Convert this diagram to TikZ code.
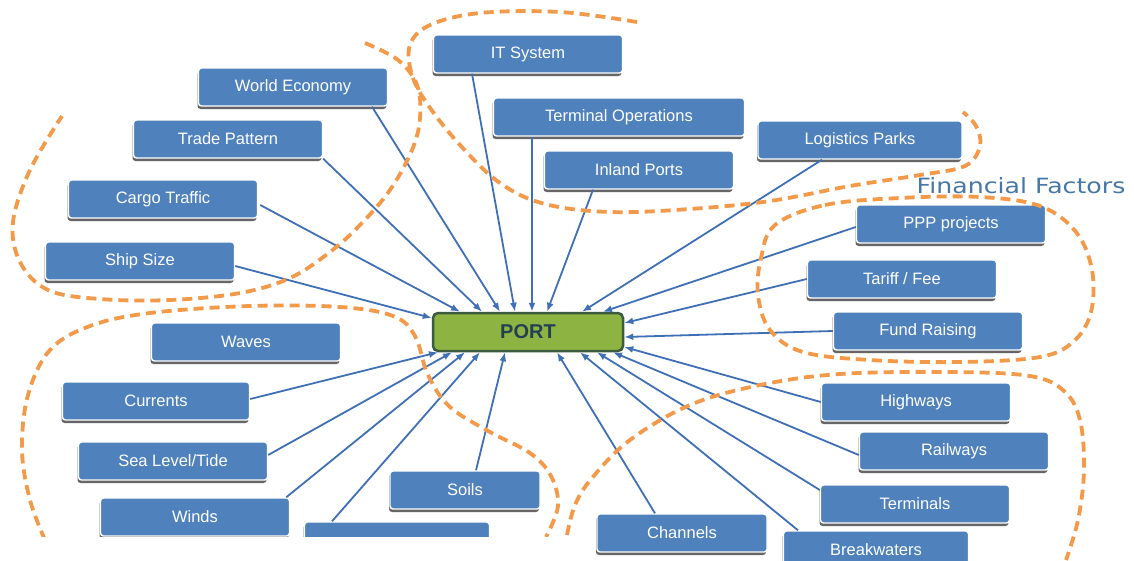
\documentclass[tikz,border=0pt]{standalone}
\usepackage{fontspec}
\setmainfont{Liberation Sans}
\newfontfamily\finfont{DejaVu Sans}
\usetikzlibrary{arrows.meta,shadows,calc}
\definecolor{boxblue}{HTML}{4F81BD}
\definecolor{linkblue}{HTML}{3F6FB5}
\definecolor{dashorange}{HTML}{F39A4A}
\definecolor{portgreen}{HTML}{8DB443}
\definecolor{portedge}{HTML}{3B5A3E}
\definecolor{porttext}{HTML}{243F55}
\definecolor{fintext}{HTML}{4677A6}
\newcommand\boxfont{\fontsize{16.5}{18}\selectfont}
\begin{document}
\begin{tikzpicture}[x=1pt,y=-1pt,
  fbox/.style={draw=white, line width=1.4pt, fill=boxblue, rounded corners=3pt, text=white,
    font=\boxfont, minimum width=189pt, minimum height=38pt, inner sep=0pt,
    drop shadow={shadow xshift=-1pt, shadow yshift=-3pt, fill=black!80, opacity=0.75}},
  portbox/.style={draw=portedge, line width=2.5pt, fill=portgreen, rounded corners=5pt,
    minimum width=190pt, minimum height=38pt, text=porttext, inner sep=0pt,
    font=\bfseries\fontsize{20}{22}\selectfont},
  link/.style={draw=linkblue, line width=1.8pt, -{Latex[length=9pt,width=7pt]}},
  grp/.style={draw=dashorange, line width=3.8pt, dash pattern=on 10pt off 6pt}]
\useasboundingbox (0,0) rectangle (1134,560);
\clip (0,0) rectangle (1134,560);
\fill[white] (0,0) rectangle (1134,560);

% nodes
\node[fbox] (we) at (293,87) {World Economy};
\node[fbox] (trade) at (228,139) {Trade Pattern};
\node[fbox] (cargo) at (163,199) {Cargo Traffic};
\node[fbox] (ship) at (140,261) {Ship Size};
\node[fbox] (it) at (528,54) {IT System};
\node[fbox, minimum width=251pt] (tops) at (619,117) {Terminal Operations};
\node[fbox] (inl) at (639,170) {Inland Ports};
\node[fbox, minimum width=204pt] (logp) at (860,140) {Logistics Parks};
\node[fbox] (ppp) at (951,224) {PPP projects};
\node[fbox] (tar) at (902,279) {Tariff / Fee};
\node[fbox] (fund) at (928,331) {Fund Raising};
\node[fbox] (wav) at (246,342) {Waves};
\node[fbox, minimum width=187pt] (cur) at (156,401) {Currents};
\node[fbox] (sea) at (173,461) {Sea Level/Tide};
\node[fbox] (winds) at (195,517) {Winds};
\node[fbox, minimum width=150pt] (soils) at (465,490) {Soils};
\node[fbox, minimum width=185pt] (hid) at (397,541) {};
\node[fbox, minimum width=170pt] (chan) at (682,533) {Channels};
\node[fbox, minimum width=185pt] (bw) at (876,550) {Breakwaters};
\node[fbox] (term) at (915,504) {Terminals};
\node[fbox] (hw) at (916,402) {Highways};
\node[fbox] (rw) at (954,451) {Railways};
\node[portbox] (port) at (528,332) {PORT};
\node[text=fintext, font=\finfont\fontsize{21}{24}\selectfont, inner sep=0pt] (fin) at (1021,186) {\scalebox{1.2}[1]{Financial Factors}};

% connectors
\draw[link] ($(ship.east)+(0,5)$) -- ($(port.west)+(0,-14)$);
\draw[link] ($(cargo.east)+(2,6)$) -- ($(port.north)+(-68,0)$);
\draw[link] (trade.south east) -- ($(port.north)+(-46,0)$);
\draw[link] ($(we.south)+(79,0)$) -- ($(port.north)+(-28,0)$);
\draw[link] ($(it.south)+(-56,0)$) -- ($(port.north)+(-13,0)$);
\draw[link] ($(tops.south)+(-87,0)$) -- ($(port.north)+(4,0)$);
\draw[link] ($(inl.south)+(-46,0)$) -- ($(port.north)+(19,0)$);
\draw[link] ($(logp.south)+(-38,0)$) -- ($(port.north)+(54,0)$);
\draw[link] ($(ppp.west)+(0,3)$) -- ($(port.north)+(75,0)$);
\draw[link] (tar.west) -- ($(port.east)+(0,-9)$);
\draw[link] (fund.west) -- ($(port.east)+(0,5)$);
\draw[link] (hw.west) -- ($(port.east)+(0,15)$);
\draw[link] ($(rw.west)+(0,4)$) -- ($(port.south)+(85,0)$);
\draw[link] ($(term.west)+(0,-14)$) -- ($(port.south)+(69,0)$);
\draw[link] ($(bw.north)+(-78,0)$) -- ($(port.south)+(52,0)$);
\draw[link] ($(chan.north)+(-27,0)$) -- ($(port.south)+(29,0)$);
\draw[link] ($(soils.north)+(11,0)$) -- ($(port.south)+(-23,0)$);
\draw[link] ($(hid.north)+(-65,0)$) -- ($(port.south)+(-48,0)$);
\draw[link] ($(winds.north east)+(-4,0)$) -- ($(port.south)+(-63,0)$);
\draw[link] ($(sea.east)+(0,-6)$) -- ($(port.south)+(-76,0)$);
\draw[link] ($(cur.east)+(0,-2)$) -- ($(port.south)+(-90,0)$);

% group outlines
\draw[grp] plot[smooth, tension=0.6] coordinates {(365,43) (398,60) (417,85) (420,118) (412,150) (390,190) (360,225) (330,252) (290,278) (240,293) (170,300) (100,299) (48,290) (20,262) (13,222) (30,170) (62,116)};
\draw[grp] plot[smooth, tension=0.6] coordinates {(637,22) (560,12) (480,13) (430,25) (410,45) (412,75) (428,105) (460,145) (500,183) (545,204) (610,212) (690,209) (770,201) (850,186) (920,175) (965,166) (980,146) (976,126) (963,112)};
\draw[grp] plot[smooth cycle, tension=0.6] coordinates {(775,225) (825,205) (900,198) (980,197) (1040,206) (1076,232) (1092,270) (1091,312) (1074,341) (1040,357) (960,362) (870,360) (803,352) (770,330) (758,295) (761,258)};
\draw[grp] plot[smooth, tension=0.6] coordinates {(567,535) (575,505) (592,478) (630,440) (690,405) (760,385) (840,374) (950,372) (1030,376) (1064,391) (1080,420) (1084,470) (1078,520) (1066,560)};
\draw[grp] plot[smooth, tension=0.6] coordinates {(45,540) (30,500) (22,450) (28,395) (50,350) (90,326) (150,313) (250,306) (340,307) (393,316) (415,336) (428,375) (450,407) (490,432) (530,453) (551,476) (558,506) (546,537)};

% cropped lower-left edge of the picture
\fill[white] (-5,537) rectangle (590,570);
\end{tikzpicture}
\end{document}
